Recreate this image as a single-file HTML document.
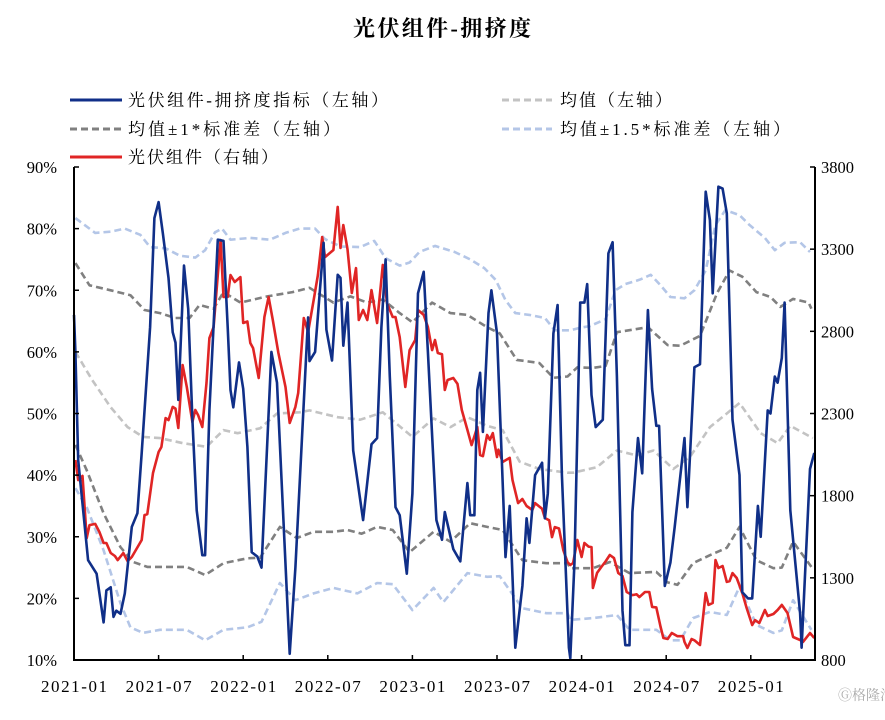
<!DOCTYPE html>
<html><head><meta charset="utf-8">
<style>
html,body{margin:0;padding:0;background:#fff;}
svg text{font-family:"Liberation Serif","Noto Serif CJK SC",serif;fill:#000;}
</style></head>
<body>
<svg id="chart" width="885" height="715" viewBox="0 0 885 715" xmlns="http://www.w3.org/2000/svg">
<text x="442" y="36" text-anchor="middle" font-size="22" font-weight="bold" textLength="178" lengthAdjust="spacing">光伏组件-拥挤度</text>
<g font-size="17">
 <g><line x1="70" y1="100" x2="122" y2="100" stroke="#102f88" stroke-width="3"/><text x="128" y="106" textLength="260" lengthAdjust="spacing">光伏组件-拥挤度指标（左轴）</text></g>
 <g><line x1="502" y1="100" x2="552" y2="100" stroke="#c3c3c3" stroke-width="3" stroke-dasharray="7,4"/><text x="560" y="106" textLength="112" lengthAdjust="spacing">均值（左轴）</text></g>
 <g><line x1="70" y1="129" x2="122" y2="129" stroke="#808080" stroke-width="3" stroke-dasharray="7,4"/><text x="128" y="135" textLength="212" lengthAdjust="spacing">均值±1*标准差（左轴）</text></g>
 <g><line x1="502" y1="129" x2="552" y2="129" stroke="#b4c6e7" stroke-width="3" stroke-dasharray="7,4"/><text x="560" y="135" textLength="230" lengthAdjust="spacing">均值±1.5*标准差（左轴）</text></g>
 <g><line x1="70" y1="157" x2="122" y2="157" stroke="#e02525" stroke-width="3"/><text x="128" y="163" textLength="150" lengthAdjust="spacing">光伏组件（右轴）</text></g>
</g>
<g id="plot"></g>
<text x="838" y="700" font-size="14" style="fill:#aaa" font-family="Liberation Sans,Noto Sans CJK SC,sans-serif">Ⓖ格隆汇</text>
</svg>
<script>
// time in months since 2021-01
const xTickLabels = ["2021-01","2021-07","2022-01","2022-07","2023-01","2023-07","2024-01","2024-07","2025-01"];
const leftTicks = [10,20,30,40,50,60,70,80,90];
const rightTicks = [800,1300,1800,2300,2800,3300,3800];

const crowdT = [0,0.1,0.3,1.0,1.6,2.1,2.3,2.6,2.8,3.0,3.3,3.6,4.1,4.5,4.8,5.4,5.7,6.0,6.3,6.7,7.0,7.2,7.4,7.8,8.1,8.4,8.7,9.1,9.3,9.6,10.2,10.6,10.9,11.1,11.3,11.7,12.0,12.3,12.6,13.0,13.3,13.7,14.0,14.4,15.3,15.7,16.6,16.7,17.1,17.7,17.9,18.3,18.7,18.9,19.1,19.4,19.8,20.5,21.1,21.5,21.8,22.1,22.4,22.8,23.1,23.6,24.0,24.4,24.8,25.1,25.7,26.1,26.3,26.9,27.4,27.9,28.1,28.4,28.6,28.8,29.0,29.4,29.6,30.0,30.6,30.9,31.3,31.8,32.1,32.3,32.7,33.2,33.4,33.6,34.0,34.3,34.6,35.1,35.2,35.5,35.9,36.2,36.4,36.7,37.0,37.5,37.9,38.2,38.5,38.9,39.1,39.4,39.6,40.0,40.3,40.7,41.0,41.3,41.5,41.9,42.3,42.6,43.3,43.5,44.0,44.4,44.8,45.1,45.3,45.7,46.0,46.3,46.7,47.2,47.4,47.8,48.1,48.5,48.7,49.2,49.4,49.7,49.9,50.2,50.4,50.8,51.5,51.6,52.2,52.5];
const crowdV = [66,60,42.4,26.2,24,16.1,21.3,21.8,17,18,17.5,20.8,31.6,33.8,43.6,64,81.7,84.3,79.3,72,63.2,61.5,52.2,74,67,49,34.3,27,27,50.5,78.2,78,64,53.8,51,58.3,54,44.6,27.5,26.8,25,45,60,55,11,25,65.6,58.5,60,77.7,63.6,58.6,72.5,72,61,68,44,32.7,45,46,64,75,56,34.8,33.5,24,37,69.5,73,60,32.7,29.5,34,28,26,38.7,33.5,33.5,53.8,56.6,47,66.3,70,63,26.7,35,12,22,33,29,40,42,33,37,63,67.6,40,12,10.3,26,68,68,71,53,47.8,49,76,77.8,56,18,12.4,12.4,34,46,40.3,66.8,54,48,48,22,25.8,31.6,46,34.8,57.5,58,86,81.4,69.5,86.8,86.5,82.5,49,40,21,20,20,35,30,50.5,50,56,55,59,68,34.3,17.6,12,41,43.6];

const priceT = [0.1,0.3,0.6,0.9,1.1,1.5,1.8,2.1,2.3,2.6,2.9,3.1,3.5,3.8,4.1,4.8,5.0,5.2,5.6,6.0,6.2,6.5,6.7,7.0,7.2,7.4,7.7,8.0,8.4,8.6,8.8,9.1,9.4,9.6,9.9,10.4,10.6,10.9,11.1,11.4,11.8,12.0,12.3,12.5,12.7,13.1,13.5,13.8,14.1,14.5,15.0,15.3,15.7,15.9,16.3,16.6,17.0,17.3,17.6,17.8,18.4,18.7,18.9,19.1,19.4,19.7,20.0,20.2,20.5,20.8,21.1,21.5,21.9,22.2,22.6,22.8,23.1,23.5,23.8,24.2,24.4,24.8,25.1,25.4,25.6,25.8,26.1,26.3,26.5,26.9,27.2,27.5,27.9,28.2,28.6,28.8,29.0,29.3,29.5,29.7,30.0,30.1,30.4,30.9,31.1,31.5,31.8,32.1,32.5,32.7,33.2,33.4,33.7,33.9,34.1,34.4,34.7,35.0,35.2,35.4,35.7,36.0,36.2,36.5,36.7,36.8,37.1,37.4,37.7,38.0,38.3,38.6,38.9,39.2,39.6,39.9,40.1,40.5,40.8,41.0,41.3,41.6,41.8,42.1,42.4,42.8,43.2,43.3,43.5,43.8,44.0,44.4,44.8,45.0,45.3,45.5,45.7,46.0,46.3,46.5,46.7,47.0,47.4,47.7,48.1,48.3,48.6,49.0,49.2,49.6,49.9,50.2,50.6,51.0,51.5,51.7,52.2,52.5];
const priceV = [2017,1895,1920,1542,1621,1628,1579,1512,1512,1451,1433,1408,1451,1402,1427,1530,1682,1688,1938,2066,2096,2272,2260,2340,2330,2212,2595,2461,2248,2321,2290,2218,2486,2759,2826,3356,3009,3009,3143,3100,3130,2851,2860,2729,2698,2516,2887,3009,2869,2668,2461,2242,2340,2425,2881,2796,2991,3143,3374,3252,3295,3557,3307,3447,3300,3033,3185,2869,2930,2869,3051,2851,3204,2972,2887,2887,2765,2461,2686,2747,2930,2900,2826,2686,2747,2668,2660,2443,2504,2516,2480,2321,2200,2108,2218,2047,2040,2169,2140,2181,2035,2080,2005,2030,1895,1755,1780,1737,1713,1755,1720,1664,1650,1548,1609,1600,1469,1396,1378,1390,1530,1427,1512,1490,1487,1238,1330,1366,1400,1439,1420,1329,1311,1214,1195,1200,1183,1214,1214,1123,1120,1001,934,928,964,945,945,910,873,928,920,891,1208,1135,1147,1408,1360,1372,1275,1280,1329,1299,1208,1117,1013,1043,1025,1104,1068,1080,1104,1135,1086,940,922,910,964,934];

const up15T = [0.1,1.5,2.6,3.6,4.7,5.4,6.5,7.5,8.6,9.3,10.0,10.5,11.1,12.5,13.9,15.0,16.0,17.1,17.8,18.9,20.3,21.3,22.1,23.1,23.8,24.5,25.6,27.0,28.1,29.1,29.9,30.6,31.3,32.3,33.4,34.1,35.2,35.9,36.6,37.7,38.4,39.1,40.1,40.9,41.6,42.3,43.3,44.0,44.8,45.5,46.2,47.2,47.9,49.0,49.7,50.4,51.5,52.2];
const up15V = [81.7,79.3,79.5,80,79,77,76.8,75.6,75.3,76.5,79.4,80,78.2,78.5,78.2,79.3,80,80,78.3,77.1,77,78,75.2,74,74.5,76.2,77.2,76.2,75,73.6,71.7,68.4,66.3,66,65.5,63.5,63.5,63.9,64.2,65.3,70,71,71.7,72.5,70.8,68.9,68.7,70,73.2,80.6,83,82.2,80.6,78.5,76.5,77.7,77.8,76.2];

const up1T = [0.1,1.1,2.6,4.0,5.0,6.1,7.2,8.2,8.9,9.9,10.6,11.8,13.7,15.5,16.7,18.4,19.6,20.8,21.9,23.1,24.0,25.4,26.7,27.9,29.3,30.2,31.4,33.0,34.0,35.0,35.7,36.8,37.7,38.5,40.7,42.1,43.0,44.4,45.6,46.5,47.4,48.4,49.4,50.1,51.0,52.1,52.3];
const up1V = [74.4,70.8,70,69.2,66.8,66.3,65.5,65.5,67.6,67,69.7,68,69,69.7,70.4,68,69,68,68.5,66.3,64.8,68,66.3,66,64,63,58.7,58.2,55.8,56,57.5,57.4,57.7,63.2,64,61.1,61,62.6,69.5,73.2,72.2,69.7,68.9,67.3,68.6,68,67];

const meanT = [0.1,1.3,2.6,3.8,4.9,6.1,7.7,9.4,10.6,11.6,13.2,14.4,16.0,16.7,18.7,20.3,21.9,24.0,25.5,26.7,27.9,29.3,30.4,31.6,33.0,35.0,35.4,37.1,38.5,39.9,41.1,42.5,43.7,45.1,46.3,47.2,48.7,49.9,50.8,52.4];
const meanV = [60,55.4,51,47.8,46.2,46,45.2,44.6,47.3,46.8,47.6,50,50.2,50.5,49.4,49,50.2,46.2,49.2,47.8,49.4,48,47.3,42.2,41,40.4,40.4,41.3,44,43.2,44,41,43,47.8,50,51.7,46.8,45.2,48,46];

const lo1T = [0.1,0.9,2.1,3.3,4.2,5.2,8.0,9.3,10.6,12.3,13.2,14.6,15.8,17.0,18.4,19.4,20.4,21.5,22.6,23.8,25.5,26.7,28.1,29.3,30.4,31.8,33.5,35.0,35.2,36.8,38.0,39.4,41.3,42.1,42.8,43.9,45.1,46.3,47.2,48.4,49.6,50.2,51.0,52.3];
const lo1V = [44.9,40.8,33.8,28.3,25.9,25.1,25.1,23.8,25.7,26.5,26.6,31.6,29.8,30.8,30.8,31.1,30.5,31.6,31.1,27.5,30.8,29.2,32.2,31.6,31.1,26.2,25.7,25.7,24.9,24.9,25.9,24.1,24.3,22.6,22.2,25.7,27,28.2,31.6,26.2,24.9,25,29.2,25.1];

const lo15T = [0.1,0.9,2.1,3.3,4.0,4.9,6.1,8.0,9.3,10.6,12.3,13.3,14.6,15.7,17.0,18.4,20.1,21.5,22.6,24.0,25.5,26.2,27.9,29.3,30.2,31.8,33.5,35.0,35.2,36.8,38.5,39.4,41.3,42.3,43.0,43.9,45.1,46.3,47.2,48.4,49.6,50.2,51.0,52.3];
const lo15V = [37.9,34.8,27.8,19.2,15.3,14.4,14.9,14.9,13.2,14.9,15.3,16.2,22.5,19.7,20.8,21.7,20.8,22.5,22.3,18.1,21.7,19.4,24.1,23.5,23.6,18.4,17.6,17.6,16.5,16.8,17.3,14.9,14.9,13.2,13.2,16.8,17.8,17.3,21.9,15.7,14.4,14.8,19.7,14.9];

const NS = "http://www.w3.org/2000/svg";
const X0 = 74, MPX = 14.1, YB = 660, YT = 167, XR = 815;
function xS(m){ return X0 + m*MPX; }
function yL(v){ return YB - (v-10)/80*(YB-YT); }
function yR(v){ return YB - (v-800)/3000*(YB-YT); }
const plot = document.getElementById('plot');
function mk(tag, attrs){ const e=document.createElementNS(NS,tag); for(const k in attrs) e.setAttribute(k, attrs[k]); plot.appendChild(e); return e; }

function series(ts, vs, yf, color, w, dash, name){
  let d = "";
  for(let i=0;i<ts.length;i++){ d += (i?"L":"M") + xS(ts[i]).toFixed(1) + "," + yf(vs[i]).toFixed(1); }
  const p = mk('path',{d:d, fill:'none', stroke:color, 'stroke-width':w, 'stroke-linejoin':'round'});
  if(dash) p.setAttribute('stroke-dasharray', dash);
  
  
}
series(up15T, up15V, yL, '#b4c6e7', 2.6, '7,4', 'upper-1-5sd-line');
series(lo15T, lo15V, yL, '#b4c6e7', 2.6, '7,4', 'lower-1-5sd-line');
series(up1T, up1V, yL, '#808080', 2.6, '7,4', 'upper-1sd-line');
series(lo1T, lo1V, yL, '#808080', 2.6, '7,4', 'lower-1sd-line');
series(meanT, meanV, yL, '#c3c3c3', 2.6, '7,4', 'mean-line');
series(priceT, priceV, yR, '#e02525', 2.6, null, 'price-line');
series(crowdT, crowdV, yL, '#102f88', 2.6, null, 'crowding-line');

let a = mk('line',{x1:X0,y1:YT,x2:X0,y2:YB,stroke:'#000','stroke-width':2});
 
a = mk('line',{x1:XR,y1:YT,x2:XR,y2:YB,stroke:'#000','stroke-width':2});
 
a = mk('line',{x1:X0-1,y1:YB,x2:XR+1,y2:YB,stroke:'#000','stroke-width':2});
 

leftTicks.forEach(v=>{
  const y=yL(v);
  mk('line',{x1:X0,y1:y,x2:X0+5,y2:y,stroke:'#000','stroke-width':1.5});
  const t=mk('text',{x:X0-17,y:y+6,'text-anchor':'end','font-size':16.5});
  t.textContent=v+'%';
  
  
});
rightTicks.forEach(v=>{
  const y=yR(v);
  mk('line',{x1:XR-5,y1:y,x2:XR,y2:y,stroke:'#000','stroke-width':1.5});
  const t=mk('text',{x:XR+6,y:y+6,'text-anchor':'start','font-size':16.5});
  t.textContent=v;
  
  
});
xTickLabels.forEach((lab,i)=>{
  const x=xS(i*6);
  mk('line',{x1:x,y1:YB,x2:x,y2:YB-5,stroke:'#000','stroke-width':1.5});
  const t=mk('text',{x:x-33,y:YB+32,'font-size':17,textLength:66,lengthAdjust:'spacing'});
  t.textContent=lab;
  
  
});
</script>
</body></html>
